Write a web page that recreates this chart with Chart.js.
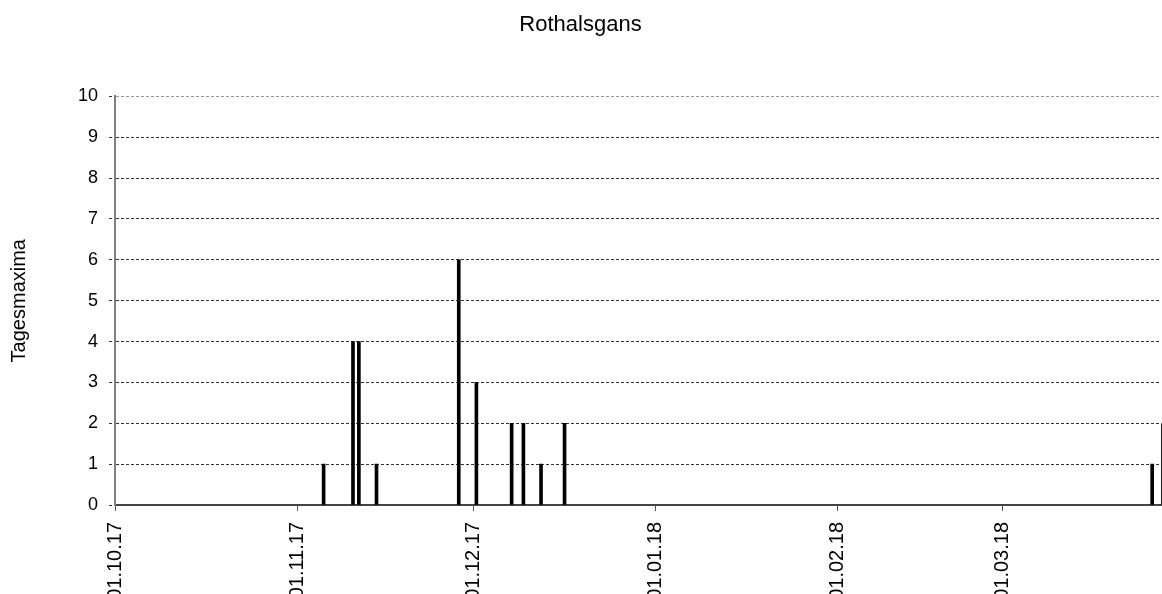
<!DOCTYPE html>
<html>
<head>
<meta charset="utf-8">
<title>Rothalsgans</title>
<script src="https://cdn.jsdelivr.net/npm/chart.js@4.4.1/dist/chart.umd.min.js"></script>
<style>
    html, body { margin: 0; padding: 0; background: #fff; overflow: hidden; }
    #wrap { position: relative; width: 1162px; height: 594px; }
</style>
</head>
<body>
<div id="wrap"><canvas id="chart"></canvas></div>
<script>
// Season shown on the x axis (one slot per day)
const seasonStart = '01.10.17';
const seasonDays = 178;
const monthTicks = ['01.10.17', '01.11.17', '01.12.17', '01.01.18', '01.02.18', '01.03.18'];

// Days with sightings and the daily maximum count
const sightingDates = ['05.11.17', '10.11.17', '11.11.17', '14.11.17', '28.11.17', '01.12.17',
                       '07.12.17', '09.12.17', '12.12.17', '16.12.17', '26.03.18'];
const dailyMax = [1, 4, 4, 1, 6, 3, 2, 2, 1, 2, 1];

const yMin = 0;
const yMax = 10;

// dd.mm.yy -> day number since season start
function dayIndex(s) {
    const [d, m, y] = s.split('.').map(Number);
    const [d0, m0, y0] = seasonStart.split('.').map(Number);
    return Math.round((Date.UTC(2000 + y, m - 1, d) - Date.UTC(2000 + y0, m0 - 1, d0)) / 86400000);
}

const points = sightingDates.map((s, i) => ({ x: dayIndex(s) + 0.5, y: dailyMax[i] }));
const tickValues = monthTicks.map(dayIndex);

const font = 'Liberation Sans, Arial, sans-serif';

// short right border of the plot between 0 and 2
const rightEdge = {
    id: 'rightEdge',
    afterDraw(chart) {
        const { ctx, chartArea, scales } = chart;
        ctx.save();
        ctx.strokeStyle = '#222';
        ctx.lineWidth = 1;
        ctx.beginPath();
        ctx.moveTo(chartArea.right + 0.5, scales.y.getPixelForValue(2));
        ctx.lineTo(chartArea.right + 0.5, scales.y.getPixelForValue(0));
        ctx.stroke();
        ctx.restore();
    }
};

new Chart(document.getElementById('chart'), {
    type: 'bar',
    data: {
        datasets: [{
            label: 'Tagesmaxima',
            data: points,
            backgroundColor: '#000',
            borderWidth: 0,
            barThickness: 3
        }]
    },
    plugins: [rightEdge],
    options: {
        responsive: true,
        maintainAspectRatio: false,
        animation: false,
        layout: { padding: { left: 0, right: 1, top: 0, bottom: 0 } },
        plugins: {
            legend: { display: false },
            tooltip: { enabled: false },
            title: {
                display: true,
                text: 'Rothalsgans',
                color: '#000',
                font: { family: font, size: 22, weight: 'normal' },
                padding: { top: 12, bottom: 58 }
            }
        },
        scales: {
            x: {
                type: 'linear',
                offset: false,
                min: 0,
                max: seasonDays,
                afterBuildTicks: function (scale) {
                    scale.ticks = tickValues.map(v => ({ value: v }));
                },
                afterFit: function (scale) {
                    scale.height = 89;
                },
                ticks: {
                    autoSkip: false,
                    minRotation: 90,
                    maxRotation: 90,
                    padding: 11,
                    color: '#000',
                    font: { family: font, size: 20 },
                    callback: function (value, index) {
                        return monthTicks[index];
                    }
                },
                grid: {
                    offset: false,
                    drawOnChartArea: false,
                    drawTicks: true,
                    tickLength: 6,
                    tickColor: '#555'
                },
                border: { display: true, color: '#444', width: 2 }
            },
            y: {
                min: yMin,
                max: yMax,
                afterFit: function (scale) {
                    scale.width = 115;
                },
                ticks: {
                    stepSize: 1,
                    padding: 11,
                    color: '#000',
                    font: { family: font, size: 18 }
                },
                grid: {
                    color: ctx => ctx.tick && ctx.tick.value === yMax ? '#999' : '#333',
                    lineWidth: 1,
                    tickLength: 6,
                    tickColor: '#333',
                    tickBorderDash: [3, 2]
                },
                border: { display: true, color: '#808080', width: 2, dash: [3, 2] },
                title: {
                    display: true,
                    text: 'Tagesmaxima',
                    color: '#000',
                    font: { family: font, size: 20 },
                    padding: { top: 7, bottom: 0 }
                }
            }
        }
    }
});
</script>
</body>
</html>
